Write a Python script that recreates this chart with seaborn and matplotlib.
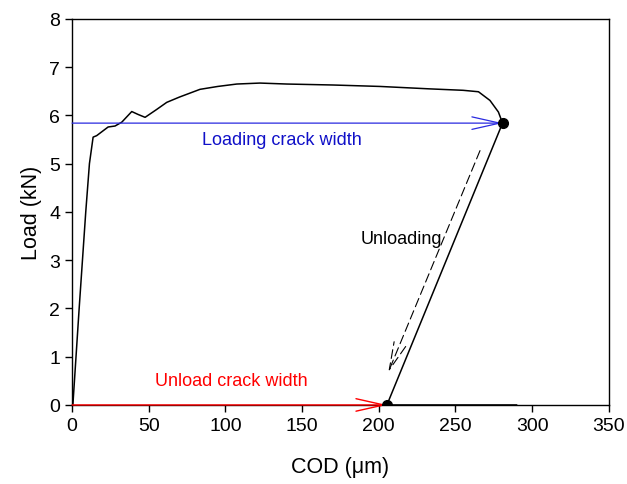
import numpy as np
import pandas as pd
import seaborn as sns
import matplotlib.pyplot as plt

# load-COD curve (um, kN)
cod = [0, 0.5, 4.6, 8.9, 11.3, 13.7, 16, 23.5, 28, 32.4, 38.9, 43, 47.6, 55, 61.7,
       70, 83.4, 95, 107.4, 122.5, 140, 170, 200.8, 233, 255, 265, 272.5, 278,
       280.7, 205.3, 290]
load = [0, 0, 2.0, 4.0, 5.0, 5.55, 5.58, 5.76, 5.78, 5.86, 6.08, 6.02, 5.96, 6.12, 6.27,
        6.38, 6.54, 6.6, 6.65, 6.67, 6.65, 6.63, 6.60, 6.55, 6.52, 6.49, 6.31, 6.07,
        5.84, 0, 0]

peak_pt = (280.7, 5.84)
resid_pt = (205.3, 0.0)
dash_start = (266, 5.27)
dash_end = (206.2, 0.68)

df = pd.DataFrame({'COD': cod, 'Load': load})

sns.set_style('ticks')
plt.rcParams['font.family'] = ['Liberation Sans', 'DejaVu Sans']
plt.rcParams['text.color'] = 'black'
plt.rcParams['axes.labelcolor'] = 'black'
plt.rcParams['xtick.color'] = 'black'
plt.rcParams['ytick.color'] = 'black'

fig, ax = plt.subplots(figsize=(6.27, 4.85), dpi=100)
fig.subplots_adjust(left=0.115, right=0.971, top=0.959, bottom=0.163)

sns.lineplot(data=df, x='COD', y='Load', sort=False, color='black', lw=1.1, ax=ax)

# crack width arrows
ax.annotate('', xy=peak_pt, xytext=(0, peak_pt[1]),
            arrowprops=dict(arrowstyle='->,head_length=2.0,head_width=0.45', color='#2a2ae0',
                            lw=0.9, shrinkA=0, shrinkB=0))
ax.annotate('', xy=resid_pt, xytext=(0, 0),
            arrowprops=dict(arrowstyle='->,head_length=2.0,head_width=0.45', color='red',
                            lw=1.0, shrinkA=0, shrinkB=0))
ax.annotate('', xy=dash_end, xytext=dash_start,
            arrowprops=dict(arrowstyle='->,head_length=2.0,head_width=0.45', color='black',
                            lw=0.8, ls=(0, (8, 4)), shrinkA=0, shrinkB=0))

ax.plot(*zip(peak_pt, resid_pt), 'o', color='black', ms=7, zorder=5)

ax.text(137, 5.51, 'Loading crack width', color='#1010c8', fontsize=13, ha='center', va='center')
ax.text(104, 0.5, 'Unload crack width', color='red', fontsize=13, ha='center', va='center')
ax.text(188, 3.44, 'Unloading', color='black', fontsize=13, ha='left', va='center')

ax.set_xlim(0, 350)
ax.set_ylim(0, 8)
ax.set_xticks(np.arange(0, 351, 50))
ax.set_yticks(np.arange(0, 9, 1))
ax.tick_params(labelsize=14, direction='out', length=5, width=1)
ax.set_xlabel('COD (\u03bcm)', fontsize=15.5, labelpad=16)
ax.set_ylabel('Load (kN)', fontsize=15.5, labelpad=5)
for s in ax.spines.values():
    s.set_color('black')
    s.set_linewidth(1)

plt.savefig('out.png', dpi=100)
